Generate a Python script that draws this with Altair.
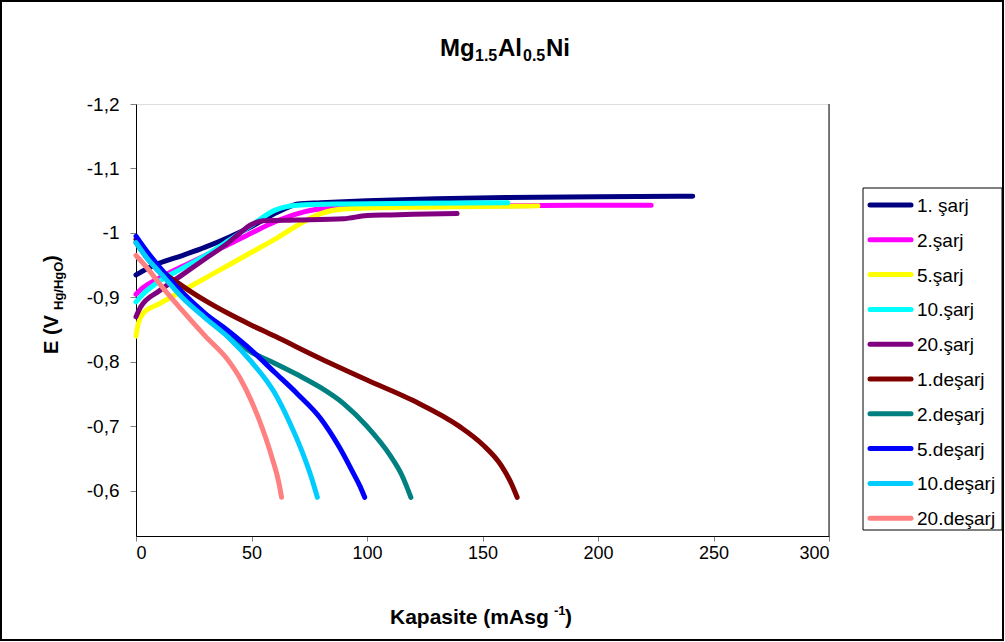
import altair as alt
import pandas as pd

# ---- data ----
series_names = ["1. şarj", "2.şarj", "5.şarj", "10.şarj", "20.şarj",
                "1.deşarj", "2.deşarj", "5.deşarj", "10.deşarj", "20.deşarj"]
series_colors = ["#000080", "#FF00FF", "#FFFF00", "#00FFFF", "#800080",
                 "#800000", "#008080", "#0000FF", "#00CCFF", "#FF8080"]

charge1_x = [0, 5, 10, 20, 30, 40, 50, 60, 66, 70, 80, 100, 130, 160, 200, 241]
charge1_y = [-0.935, -0.945, -0.953, -0.965, -0.978, -0.993, -1.010, -1.030, -1.040, -1.045, -1.047, -1.050, -1.053, -1.055, -1.056, -1.057]

charge2_x = [0, 3, 10, 20, 30, 40, 50, 60, 70, 80, 100, 150, 190, 223]
charge2_y = [-0.905, -0.915, -0.93, -0.948, -0.965, -0.982, -1.000, -1.017, -1.030, -1.037, -1.040, -1.042, -1.043, -1.043]

charge5_x = [0, 1, 3, 10, 20, 30, 40, 50, 60, 70, 80, 90, 120, 150, 174]
charge5_y = [-0.840, -0.860, -0.875, -0.890, -0.910, -0.930, -0.950, -0.970, -0.990, -1.012, -1.030, -1.037, -1.040, -1.041, -1.042]

charge10_x = [0, 3, 10, 20, 30, 40, 50, 60, 70, 90, 120, 161]
charge10_y = [-0.893, -0.905, -0.925, -0.945, -0.965, -0.988, -1.012, -1.035, -1.043, -1.045, -1.046, -1.047]

charge20_x = [0, 2, 10, 20, 30, 40, 45, 50, 55, 70, 90, 100, 110, 120, 139]
charge20_y = [-0.870, -0.885, -0.910, -0.935, -0.960, -0.985, -1.000, -1.013, -1.019, -1.020, -1.022, -1.027, -1.028, -1.029, -1.030]

dis1_x = [0, 5, 10, 20, 30, 40, 50, 60, 80, 100, 120, 140, 150, 158, 162, 165]
dis1_y = [-0.990, -0.965, -0.945, -0.918, -0.895, -0.875, -0.857, -0.840, -0.805, -0.772, -0.740, -0.700, -0.672, -0.640, -0.615, -0.590]

dis2_x = [0, 5, 10, 20, 30, 40, 50, 60, 70, 80, 90, 100, 110, 115, 119]
dis2_y = [-0.985, -0.960, -0.940, -0.905, -0.870, -0.840, -0.815, -0.798, -0.780, -0.760, -0.735, -0.700, -0.655, -0.625, -0.590]

dis5_x = [0, 5, 10, 20, 30, 40, 50, 60, 70, 80, 88, 94, 97, 99]
dis5_y = [-0.995, -0.970, -0.948, -0.908, -0.875, -0.848, -0.818, -0.784, -0.750, -0.712, -0.668, -0.628, -0.607, -0.590]

dis10_x = [0, 5, 10, 20, 30, 40, 50, 60, 66, 72, 76, 78.5]
dis10_y = [-0.985, -0.960, -0.940, -0.900, -0.868, -0.838, -0.800, -0.752, -0.710, -0.660, -0.620, -0.590]

dis20_x = [0, 5, 10, 20, 30, 40, 45, 50, 55, 59, 62, 63]
dis20_y = [-0.965, -0.945, -0.922, -0.880, -0.840, -0.802, -0.775, -0.739, -0.694, -0.650, -0.610, -0.590]

all_x = [charge1_x, charge2_x, charge5_x, charge10_x, charge20_x,
         dis1_x, dis2_x, dis5_x, dis10_x, dis20_x]
all_y = [charge1_y, charge2_y, charge5_y, charge10_y, charge20_y,
         dis1_y, dis2_y, dis5_y, dis10_y, dis20_y]

x_ticks = [0, 50, 100, 150, 200, 250, 300]
y_ticks = [-1.2, -1.1, -1.0, -0.9, -0.8, -0.7, -0.6]
y_domain = [-1.2, -0.53]

rows = []
for name, xs, ys in zip(series_names, all_x, all_y):
    for i, (xv, yv) in enumerate(zip(xs, ys)):
        rows.append({"seri": name, "kap": xv, "E": yv, "i": i})
df = pd.DataFrame(rows)

L, T = 136, 104
W = 693
H = 432
FONT = "Liberation Sans"
one = alt.Data(values=[{"a": 1}])

lines = alt.Chart(df).mark_line(strokeWidth=5, strokeCap="round", interpolate="monotone").encode(
    x=alt.X("kap:Q", scale=alt.Scale(domain=[0, 300], nice=False),
            axis=alt.Axis(values=x_ticks, title=None, grid=False, labelFont=FONT,
                          labelFontSize=18, labelColor="black", domainColor="black",
                          tickColor="#808080", tickSize=5, labelPadding=3)),
    y=alt.Y("E:Q", scale=alt.Scale(domain=y_domain, reverse=True, nice=False),
            axis=alt.Axis(values=y_ticks, title=None, grid=False, labelFont=FONT,
                          labelFontSize=19, labelColor="black", domainColor="black",
                          tickColor="#808080", tickSize=6, labelPadding=11,
                          labelExpr="replace(replace(format(datum.value, '.1~f'), '.', ','), '\u2212', '-')")),
    color=alt.Color("seri:N", scale=alt.Scale(domain=series_names, range=series_colors),
                    legend=None),
    order="i:Q",
)

right_edge = alt.Chart(one).mark_rule(color="black", strokeWidth=1).encode(
    x=alt.value(W), y=alt.value(0), y2=alt.value(H))

frame = alt.Chart(one).mark_rect(fill=None, stroke="black", strokeWidth=2).encode(
    x=alt.value(1 - L), x2=alt.value(1003 - L), y=alt.value(1 - T), y2=alt.value(640 - T))


def txt(s, x, y, size, angle=0, bold=True):
    return alt.Chart(one).mark_text(text=s, font=FONT, fontSize=size,
                                    fontWeight="bold" if bold else "normal",
                                    angle=angle, align="left", baseline="alphabetic",
                                    color="black").encode(x=alt.value(x - L), y=alt.value(y - T))


# title Mg1.5Al0.5Ni
tx, ty = 440, 56
title_parts = [
    txt("Mg", tx, ty, 24),
    txt("1.5", tx + 35, ty + 5, 16),
    txt("Al", tx + 58, ty, 24),
    txt("0.5", tx + 83, ty + 5, 16),
    txt("Ni", tx + 106, ty, 24),
]

# x axis title Kapasite (mAsg-1)
kx, ky = 390, 624
xtitle = [
    txt("Kapasite (mAsg", kx, ky, 21),
    txt("-1", kx + 164, ky - 9, 13),
    txt(")", kx + 175, ky, 21),
]

# y axis title E (V Hg/HgO), rotated
yx, yy = 58, 354
ytitle = [
    txt("E (V", yx, yy, 20, angle=270),
    txt("Hg/HgO", yx + 5, yy - 44, 13, angle=270),
    txt(")", yx, yy - 92, 20, angle=270),
]

# legend box
LX0, LX1, LY0, LY1 = 863, 1002, 188, 530
legend_box = alt.Chart(one).mark_rect(fill="white", stroke="black", strokeWidth=1).encode(
    x=alt.value(LX0 - L), x2=alt.value(LX1 - L), y=alt.value(LY0 - T), y2=alt.value(LY1 - T))
legend_items = []
for k, (name, col) in enumerate(zip(series_names, series_colors)):
    yk = 205 + 34.8 * k
    legend_items.append(
        alt.Chart(one).mark_rule(color=col, strokeWidth=5, strokeCap="round").encode(
            x=alt.value(870 - L), x2=alt.value(911 - L), y=alt.value(yk - T)))
    legend_items.append(txt(name, 917, yk + 7, 19, bold=False))

chart = alt.layer(frame, lines, right_edge, legend_box, *legend_items,
                  *title_parts, *xtitle, *ytitle).properties(
    width=W, height=H,
    padding={"left": L, "top": T, "right": 1005 - L - W, "bottom": 642 - T - H},
    autosize=alt.AutoSizeParams(type="none"),
).configure_view(stroke="#808080", strokeWidth=1).configure(background="white")

chart.save("out.html", embed_options={"renderer": "svg", "actions": False})
